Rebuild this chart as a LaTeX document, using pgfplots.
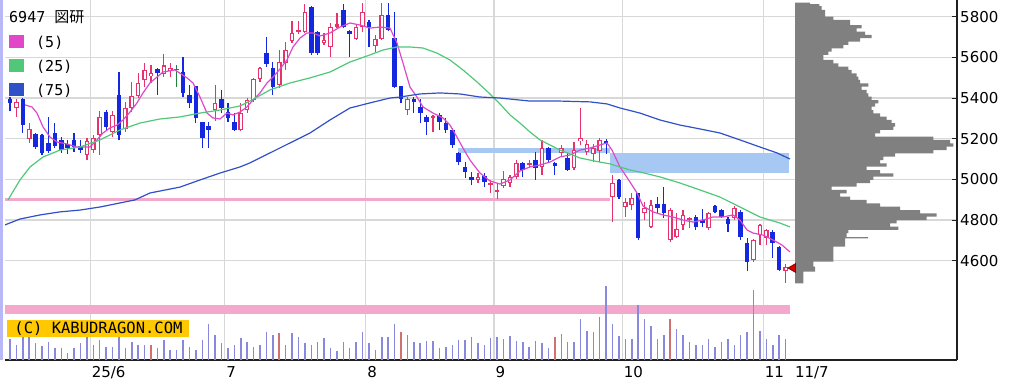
\documentclass[border=0pt]{standalone}
\usepackage{pgfplots}
\pgfplotsset{compat=1.18}
\usepackage{pgfplotstable}
\usepackage{fontspec}
\setmainfont{DejaVu Sans}
\newfontfamily\monof{DejaVu Sans Mono}
\newfontfamily\cjk{Noto Sans CJK JP}
\definecolor{cred}{HTML}{E6336B}
\definecolor{cblue}{HTML}{1428E0}
\definecolor{cgreen}{HTML}{208040}
\definecolor{maf}{HTML}{E048C8}
\definecolor{mat}{HTML}{50C878}
\definecolor{mas}{HTML}{3050C8}
\definecolor{volc}{HTML}{8888DD}
\definecolor{volr}{HTML}{D07070}
\definecolor{gridc}{HTML}{D8D8D8}
\definecolor{profc}{HTML}{808080}
\definecolor{pinkline}{HTML}{F2A8C8}
\definecolor{pinkband}{HTML}{F4A8CC}
\definecolor{blueband}{HTML}{A8C8F4}
\definecolor{leftc}{HTML}{B8B8F8}
\definecolor{axisdark}{HTML}{202020}
\definecolor{cyellow}{HTML}{FFC800}
\definecolor{tri}{HTML}{E00000}
\definecolor{trid}{HTML}{800000}

\pgfplotstableread{
i o h l c t v r
0 5395 5405 5336 5375 -1 20.7 0
1 5351 5395 5307 5380 1 15 0
2 5395 5400 5228 5267 -1 22.7 0
3 5198 5277 5179 5248 1 22.7 0
4 5223 5228 5150 5159 -1 16.7 0
5 5218 5223 5120 5130 -1 14 0
6 5179 5307 5130 5139 -1 18.3 0
7 5228 5277 5154 5164 -1 11.7 0
8 5194 5208 5130 5144 -1 11.7 0
9 5174 5194 5125 5154 -1 6.7 0
10 5194 5228 5134 5159 -1 11.7 0
11 5164 5194 5130 5144 -1 16.7 0
12 5120 5203 5095 5189 1 22.7 0
13 5144 5218 5130 5203 1 15 0
14 5218 5336 5120 5307 1 20 0
15 5331 5341 5243 5257 -1 13.3 0
16 5233 5336 5208 5316 1 13.3 0
17 5415 5528 5194 5218 -1 22.7 0
18 5248 5380 5233 5351 1 11.7 0
19 5351 5479 5331 5410 1 18.3 0
20 5410 5523 5400 5474 1 15 0
21 5489 5572 5454 5538 1 15 0
22 5508 5562 5474 5523 1 15 1
23 5543 5548 5415 5523 -1 11.7 0
24 5518 5616 5503 5560 1 20 0
25 5533 5572 5503 5548 1 10 0
26 5545 5562 5454 5537 0 10 0
27 5528 5602 5405 5425 -1 20 0
28 5415 5464 5351 5375 -1 13.3 0
29 5459 5459 5277 5302 -1 10 0
30 5282 5282 5154 5203 -1 20 0
31 5262 5282 5154 5243 -1 36 0
32 5341 5464 5287 5375 1 25 0
33 5395 5439 5326 5351 -1 16.7 0
34 5331 5375 5282 5302 -1 11.7 0
35 5282 5326 5238 5243 -1 15 0
36 5243 5375 5238 5326 1 21.7 0
37 5341 5400 5326 5390 1 18.3 0
38 5390 5498 5380 5493 1 13.3 0
39 5493 5553 5479 5548 1 15 0
40 5621 5700 5553 5567 -1 28.3 0
41 5548 5577 5415 5454 -1 25 0
42 5464 5636 5449 5577 1 26.7 1
43 5572 5675 5538 5636 1 15 0
44 5680 5779 5671 5720 1 26.7 0
45 5725 5779 5715 5735 1 23.3 0
46 5725 5862 5720 5823 1 16.7 0
47 5848 5852 5612 5621 -1 15 0
48 5725 5730 5612 5621 -1 18.3 0
49 5671 5720 5661 5685 1 21.7 0
50 5651 5769 5602 5749 1 11.7 0
51 5750 5818 5745 5762 1 9.3 0
52 5833 5862 5745 5749 -1 18.3 0
53 5730 5735 5602 5715 -1 11.7 0
54 5690 5759 5685 5749 1 18.3 0
55 5749 5867 5725 5823 1 28.3 0
56 5774 5784 5651 5749 -1 16.7 0
57 5656 5710 5626 5690 1 10 0
58 5690 5867 5685 5808 1 22.7 0
59 5808 5867 5730 5734 -1 22.7 0
60 5695 5823 5450 5454 -1 36 0
61 5459 5460 5375 5395 -1 28.3 1
62 5341 5405 5316 5395 1 25 0
63 5395 5405 5326 5380 -1 18.3 0
64 5356 5395 5277 5326 -1 16.7 0
65 5307 5316 5218 5282 -1 19.3 0
66 5302 5316 5233 5312 1 19.3 0
67 5316 5326 5243 5282 -1 11.7 0
68 5277 5302 5228 5243 -1 13.3 0
69 5243 5253 5154 5169 -1 15 0
70 5130 5134 5071 5085 -1 20 0
71 5061 5085 5007 5036 -1 20 0
72 5012 5036 4972 4997 -1 22.7 0
73 4997 5031 4982 5012 1 16.7 0
74 5016 5031 4962 4987 -1 15 0
75 4972 4997 4933 4982 1 21.7 0
76 4938 4977 4903 4948 1 22.7 0
77 4967 5041 4957 5002 1 20.7 0
78 4982 5021 4962 5012 1 24 0
79 5012 5095 5002 5080 1 19.3 0
80 5080 5085 5012 5046 -1 18.3 0
81 5071 5095 5056 5080 1 13.3 0
82 5095 5134 4997 5056 -1 19.3 0
83 5061 5194 5021 5154 1 16.7 0
84 5154 5159 5085 5095 -1 11.7 0
85 5080 5085 5021 5066 -1 22.7 1
86 5130 5169 5110 5154 1 26 0
87 5105 5130 5041 5046 -1 18.3 0
88 5056 5184 5046 5144 1 18.3 0
89 5189 5351 5169 5203 1 40.7 0
90 5134 5194 5120 5174 1 29.3 0
91 5125 5174 5085 5154 1 27.7 0
92 5139 5203 5085 5194 1 43.3 0
93 5189 5198 5125 5174 -1 74 0
94 4913 5021 4790 4982 1 36 0
95 4997 5002 4903 4913 -1 24 0
96 4864 4908 4815 4889 1 21.3 0
97 4874 4933 4849 4908 1 21.3 0
98 4933 4935 4702 4712 -1 55 0
99 4834 4889 4800 4859 1 40.7 0
100 4766 4898 4761 4874 1 34 0
101 4879 4913 4834 4859 -1 21.3 0
102 4879 4962 4810 4834 -1 24.7 0
103 4702 4859 4692 4849 1 40.7 1
104 4716 4834 4712 4756 1 30.7 0
105 4775 4849 4751 4825 1 24.7 0
106 4800 4815 4761 4810 1 18.3 0
107 4815 4825 4751 4766 -1 15 0
108 4800 4854 4766 4785 -1 15 0
109 4761 4839 4751 4834 1 21.3 0
110 4869 4874 4834 4839 -1 13.3 0
111 4849 4854 4810 4815 -1 18.3 0
112 4805 4815 4741 4780 -1 21.3 0
113 4810 4869 4800 4859 1 15 0
114 4839 4849 4702 4716 -1 24.7 0
115 4687 4712 4549 4593 -1 27.7 0
116 4603 4707 4593 4702 1 70 0
117 4726 4780 4677 4775 1 29.3 0
118 4712 4756 4677 4751 1 21.3 0
119 4741 4751 4613 4687 -1 15 0
120 4667 4672 4549 4554 -1 24.7 0
121 4549 4584 4490 4569 1 21.3 0
}\candles

\pgfplotstableread{
w y
8.3 4489
20 4546
18.3 4571
38.3 4595
50 4669
50 4702
73 4710
51.7 4716
53.3 4735
103.3 4751
95 4767
101.7 4784
131.7 4800
141.7 4817
125 4833
105 4849
85 4866
71.7 4882
55 4899
45 4915
51.7 4931
36.7 4948
61.7 4964
75 4981
78.3 4997
98.3 5013
85 5030
71.7 5046
91.7 5062
85 5079
88.3 5095
100 5112
138.3 5128
151.7 5144
158.3 5161
155 5177
138.3 5194
80 5210
85 5226
98.3 5243
100 5259
96.7 5276
91.7 5292
85 5308
78.3 5325
76.7 5341
80 5358
83.3 5374
76.7 5390
73.3 5407
71.7 5423
66.7 5440
73.3 5456
65 5472
63.3 5489
61.7 5505
56.7 5521
53.3 5538
43.3 5554
38.3 5571
28.3 5587
33.3 5612
36.7 5628
48.3 5644
53.3 5661
65 5677
76.7 5694
70 5710
61.7 5726
66.7 5743
55 5759
38.3 5784
30 5800
26.7 5833
24.3 5852
15 5862
0 5869
}\profile

\pgfplotsset{
  cwick/.style={draw=none, mark=none, forget plot,
    error bars/y dir=plus, error bars/y explicit, error bars/error mark=none,
    error bars/error bar style={draw=#1, line width=1.2bp}},
  cbody/.style 2 args={draw=none, mark=none, forget plot,
    error bars/y dir=both, error bars/y explicit, error bars/error mark=none,
    error bars/error bar style={draw=#1, line width=#2}},
  baseax/.style={at={(5bp,24bp)}, anchor=south west,
    width=952bp, height=360bp, scale only axis},
}

\begin{document}
\begin{tikzpicture}
\useasboundingbox (0,0) rectangle (1019bp,384bp);
\fill[leftc] (0,24bp) rectangle (2.5bp,384bp);

\begin{axis}[baseax,
  xmin=-0.78, xmax=147.74, ymin=4111.6, ymax=5882.1,
  axis x line*=bottom, axis y line*=right,
  axis line style={line width=1.3bp, color=axisdark},
  xtick={12.5,33.5,55.5,75.5,95.5,117.5},
  xticklabels={25/6,7,8,9,10,11},
  extra x ticks={122.2}, extra x tick labels={11/7},
  extra x tick style={grid=none},
  xmajorgrids, ymajorgrids,
  ytick={4600,4800,5000,5200,5400,5600,5800},
  yticklabels={4600,4800,5000,5200,5400,5600,5800},
  grid style={line width=1.2bp, color=gridc},
  xtick style={draw=none},
  ytick style={line width=1bp, color=axisdark},
  tick align=inside, major tick length=5bp,
  xticklabel style={anchor=north west, inner sep=0pt, xshift=1.5bp, yshift=-6bp},
  yticklabel style={anchor=west, inner sep=0pt, xshift=3bp},
  tick label style={font=\fontsize{15bp}{15bp}\selectfont, color=black},
  legend style={at={(0.0042,0.9028)}, anchor=north west, draw=none, fill=none,
    inner sep=0pt, outer sep=0pt, row sep=10.6bp,
    font=\monof\fontsize{15bp}{15bp}\selectfont, nodes={inner sep=0pt},
    /tikz/every odd column/.append style={column sep=12bp}},
  legend cell align=left,
  legend image code/.code={\fill[#1] (0bp,-5.5bp) rectangle (14bp,6.5bp);},
]
% bands
\addplot[fill=pinkband, draw=none, forget plot] coordinates {(-0.78,4338) (121.7,4338) (121.7,4382) (-0.78,4382)} -- cycle;
\addplot[color=pinkline, line width=3bp, forget plot] coordinates {(-0.78,4903) (93.6,4903)};
\addplot[fill=blueband, draw=none, forget plot] coordinates {(69.9,5130) (93.6,5130) (93.6,5154) (69.9,5154)} -- cycle;
\addplot[fill=blueband, draw=none, forget plot] coordinates {(93.6,5031) (121.5,5031) (121.5,5130) (93.6,5130)} -- cycle;

% wicks
\addplot[restrict expr to domain={\thisrow{t}}{0.5:1.5}, cwick=cred] table[x=i, y=l, y error expr={\thisrow{h}-\thisrow{l}}] \candles;
\addplot[restrict expr to domain={\thisrow{t}}{-1.5:-0.5}, cwick=cblue] table[x=i, y=l, y error expr={\thisrow{h}-\thisrow{l}}] \candles;
\addplot[restrict expr to domain={\thisrow{t}}{-0.5:0.5}, cwick=cgreen] table[x=i, y=l, y error expr={\thisrow{h}-\thisrow{l}}] \candles;
% bodies
\addplot[restrict expr to domain={\thisrow{t}}{0.5:1.5}, cbody={cred}{4.6bp}] table[x=i, y expr={(\thisrow{o}+\thisrow{c})/2}, y error expr={abs(\thisrow{c}-\thisrow{o})/2}] \candles;
\addplot[restrict expr to domain={\thisrow{t}}{0.5:1.5}, cbody={white}{2.2bp}] table[x=i, y expr={(\thisrow{o}+\thisrow{c})/2}, y error expr={max(abs(\thisrow{c}-\thisrow{o})/2-6,0)}] \candles;
\addplot[restrict expr to domain={\thisrow{t}}{-1.5:-0.5}, cbody={cblue}{4.6bp}] table[x=i, y expr={(\thisrow{o}+\thisrow{c})/2}, y error expr={abs(\thisrow{c}-\thisrow{o})/2}] \candles;
\addplot[restrict expr to domain={\thisrow{t}}{-0.5:0.5}, cbody={cgreen}{4.6bp}] table[x=i, y expr={(\thisrow{o}+\thisrow{c})/2}, y error expr={abs(\thisrow{c}-\thisrow{o})/2}] \candles;

% moving averages
\addplot[color=maf, line width=1.2bp, mark=none] coordinates {
(2.34,5366)(3.43,5356)(4.21,5326)(5.15,5258)(6.24,5208)(7.33,5184)(8.89,5174)(10.45,5159)(12.48,5159)(13.57,5194)(14.51,5228)(15.6,5253)(16.69,5267)(17.63,5292)(18.72,5331)(19.81,5376)(20.75,5425)(21.84,5474)(22.93,5503)(23.87,5528)(25.74,5538)(27.61,5499)(28.55,5474)(29.64,5405)(30.73,5326)(31.67,5302)(32.76,5297)(33.85,5326)(34.79,5317)(35.88,5331)(36.97,5356)(37.91,5390)(39.0,5425)(40.09,5474)(41.03,5503)(42.12,5543)(43.21,5587)(44.15,5651)(45.24,5695)(46.33,5720)(47.27,5720)(48.36,5705)(49.92,5720)(51.48,5749)(53.04,5769)(54.6,5759)(56.16,5744)(57.72,5749)(59.28,5744)(60.37,5671)(61.31,5572)(62.4,5454)(63.49,5405)(64.43,5356)(65.99,5326)(67.55,5302)(68.64,5267)(69.73,5208)(70.67,5154)(71.76,5095)(73.32,5031)(74.88,4992)(76.44,4977)(78.0,4997)(79.56,5041)(81.12,5061)(82.68,5071)(84.24,5085)(85.8,5110)(87.36,5120)(88.92,5144)(90.48,5154)(92.04,5169)(93.14,5179)(93.92,5144)(95.16,5061)(96.72,4987)(97.82,4933)(98.75,4869)(100.31,4840)(101.87,4825)(103.43,4815)(104.99,4800)(106.55,4790)(108.11,4800)(109.67,4815)(111.23,4815)(112.79,4825)(113.88,4800)(114.98,4751)(115.91,4736)(117.47,4726)(119.03,4702)(120.44,4677)(121.68,4643)};
\addlegendentry{(5)}
\addplot[color=mat, line width=1.2bp, mark=none] coordinates {
(-0.31,4899)(1.56,4997)(3.12,5061)(5.15,5110)(7.8,5144)(10.92,5159)(14.04,5194)(17.16,5243)(20.28,5277)(23.4,5297)(26.52,5307)(29.64,5326)(32.76,5341)(35.88,5361)(37.44,5385)(40.56,5440)(43.68,5474)(46.8,5499)(49.92,5528)(53.04,5577)(56.16,5612)(58.19,5636)(60.37,5651)(62.4,5651)(64.43,5646)(66.61,5621)(68.64,5587)(70.67,5538)(72.86,5479)(74.88,5420)(76.44,5371)(78.0,5317)(79.56,5277)(81.12,5233)(82.68,5194)(84.24,5169)(85.8,5144)(87.36,5125)(88.92,5105)(90.48,5095)(92.04,5085)(93.6,5076)(95.16,5061)(96.72,5046)(98.28,5036)(101.4,5012)(104.52,4982)(107.64,4948)(110.76,4913)(113.88,4864)(117.0,4815)(120.12,4785)(121.68,4766)};
\addlegendentry{(25)}
\addplot[color=mas, line width=1.2bp, mark=none] coordinates {
(-0.78,4776)(1.56,4805)(4.68,4825)(7.8,4840)(10.92,4849)(14.04,4864)(17.16,4884)(19.5,4899)(21.84,4933)(26.52,4962)(29.64,4997)(32.76,5031)(35.88,5061)(37.44,5081)(40.56,5130)(43.68,5179)(46.8,5228)(49.92,5292)(53.04,5351)(56.16,5376)(59.28,5400)(60.84,5405)(63.96,5420)(67.08,5425)(70.2,5420)(73.32,5405)(76.44,5400)(81.12,5385)(85.8,5385)(90.48,5381)(93.14,5371)(95.16,5351)(98.28,5326)(101.4,5292)(104.52,5267)(107.64,5248)(110.76,5228)(113.88,5194)(117.0,5159)(119.66,5130)(121.68,5100)};
\addlegendentry{(75)}

\node[anchor=west, inner sep=0pt, font=\monof\fontsize{15bp}{15bp}\selectfont] at (rel axis cs:0.0042,0.9528) {6947 {\cjk 図研}};
\end{axis}

\begin{axis}[baseax, hide axis,
  xmin=-0.78, xmax=147.74, ymin=0, ymax=360]
\addplot[ycomb, color=volc, line width=1.5bp, mark=none, restrict expr to domain={\thisrow{r}}{-0.5:0.5}] table[x=i, y=v] \candles;
\addplot[ycomb, color=volr, line width=1.5bp, mark=none, restrict expr to domain={\thisrow{r}}{0.5:1.5}] table[x=i, y=v] \candles;
\node[anchor=west, fill=cyellow, inner sep=0pt, minimum width=182bp, minimum height=17bp,
  font=\monof\fontsize{15.5bp}{15.5bp}\selectfont] at (rel axis cs:0.0024,0.088) {(C) KABUDRAGON.COM};
\end{axis}

\begin{axis}[baseax, hide axis,
  xmin=-790, xmax=162, ymin=4111.6, ymax=5882.1]
\addplot[xbar interval, fill=profc, draw=none] table[x=w, y=y] \profile;
\addplot[only marks, mark=triangle*, mark size=5bp,
  mark options={rotate=90, fill=tri, draw=trid, line width=0.8bp}] coordinates {(-2,4564)};
\end{axis}
\end{tikzpicture}
\end{document}
